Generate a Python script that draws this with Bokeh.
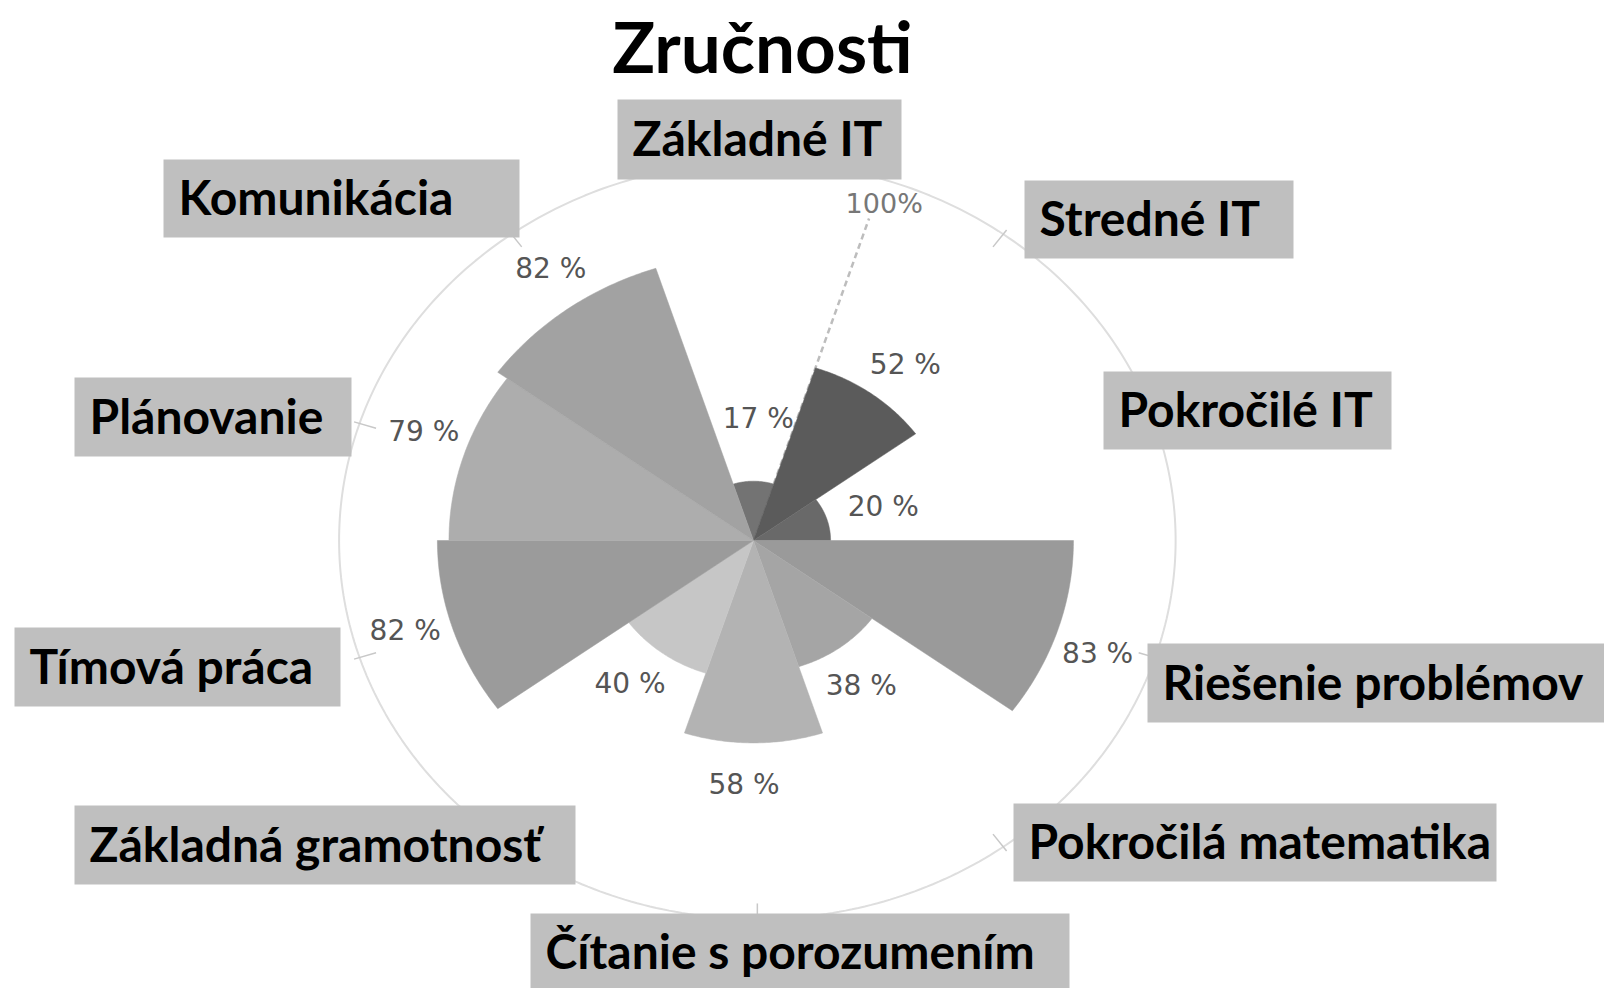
import numpy as np
from bokeh.plotting import figure
from bokeh.models import Range1d, ColumnDataSource
from bokeh.core.properties import value
from bokeh.embed import file_html
from bokeh.resources import INLINE

# ---------------- data ----------------
title = "Zručnosti"
categories = ["Základné IT", "Stredné IT", "Pokročilé IT", "Riešenie problémov",
              "Pokročilá matematika", "Čítanie s porozumením", "Základná gramotnosť",
              "Tímová práca", "Plánovanie", "Komunikácia"]
values = [17, 52, 20, 83, 38, 58, 40, 82, 79, 82]
value_labels = ["17 %", "52 %", "20 %", "83 %", "38 %", "58 %", "40 %", "82 %", "79 %", "82 %"]
colors = ["#737373", "#5b5b5b", "#696969", "#9a9a9a", "#a5a5a5",
          "#b3b3b3", "#c6c6c6", "#9b9b9b", "#adadad", "#a2a2a2"]
scale_max = 100
scale_label = "100%"

# category label boxes (pixel layout: left, top, right, bottom)
box_layout = [(617, 99, 901, 179), (1024, 180, 1293, 258), (1103, 371, 1391, 449),
              (1147, 643, 1620, 722), (1013, 803, 1496, 881), (530, 913, 1069, 1000),
              (74, 805, 575, 884), (14, 627, 340, 706), (74, 377, 351, 456),
              (163, 159, 519, 237)]

# ---------------- geometry / scales ----------------
W, H = 1604, 988
SX = 3.855          # px per unit horizontally
SY = 3.49           # px per unit vertically
CX, CY = 753, 540   # center in px


def dx(px):
    return (px - CX) / SX


def dy(py):
    return (CY - py) / SY


p = figure(width=W, height=H, output_backend="svg", toolbar_location=None,
           x_range=Range1d(dx(0), dx(W)), y_range=Range1d(dy(H), dy(0)),
           min_border=0, background_fill_color="white", border_fill_color="white")
p.axis.visible = False
p.grid.visible = False
p.outline_line_color = None

n = len(values)
step = 360.0 / n
centers = np.arange(n) * step  # clockwise from north

# outer ring
RING = 108.5
t = np.linspace(0, 2 * np.pi, 400)
p.line(RING * np.sin(t) + 1, RING * np.cos(t), line_color="#dedede", line_width=2)
# ring ticks at category angles
for a in np.radians(centers):
    p.line([104 * np.sin(a) + 1, 110 * np.sin(a) + 1], [104 * np.cos(a), 110 * np.cos(a)],
           line_color="#c8c8c8", line_width=1.5)

# dashed radial line to 100 %
a0 = np.radians(step / 2)
p.line([0, 97 * np.sin(a0)], [0, 97 * np.cos(a0)], line_color="#bdbdbd",
       line_width=2.5, line_dash="6 4")
p.text([scale_max * np.sin(a0) + 3], [scale_max * np.cos(a0) + 1.5], text=[scale_label],
       text_font=value("DejaVu Sans"), text_font_size="27px", text_color="#777777",
       text_align="center", text_baseline="middle")

# wedges
xs, ys = [], []
for c, v in zip(centers, values):
    ang = np.radians(np.linspace(c - step / 2, c + step / 2, 60))
    xs.append(np.concatenate([[0], v * np.sin(ang), [0]]))
    ys.append(np.concatenate([[0], v * np.cos(ang), [0]]))
p.patches(xs, ys, fill_color=colors, line_color=colors, line_width=0.5)

# value labels
off, rmin = 12, 35
lr = np.maximum(np.array(values, dtype=float) + off, rmin)
la = np.radians(centers + 2)
p.text(lr * np.sin(la), lr * np.cos(la), text=value_labels,
       text_font=value("DejaVu Sans"), text_font_size="28px", text_color="#555555",
       text_align="center", text_baseline="middle")

# category boxes
src = ColumnDataSource(dict(
    left=[dx(b[0]) for b in box_layout], right=[dx(b[2]) for b in box_layout],
    top=[dy(b[1]) for b in box_layout], bottom=[dy(b[3]) for b in box_layout],
    tx=[dx(b[0] + 15) for b in box_layout],
    ty=[dy((b[1] + min(b[3], 990)) / 2 - 2) for b in box_layout],
    label=categories))
p.quad(left="left", right="right", top="top", bottom="bottom", source=src,
       fill_color="#bfbfbf", line_color=None)
p.text(x="tx", y="ty", text="label", source=src, text_font=value("Lato"),
       text_font_style="bold", text_font_size="48px", text_color="#000000",
       text_align="left", text_baseline="middle")

# title
p.text([dx(762)], [dy(45)], text=[title], text_font=value("Lato"), text_font_style="bold",
       text_font_size="71px", text_color="#000000", text_align="center",
       text_baseline="middle")

open("out.html", "w").write(file_html(p, INLINE))
